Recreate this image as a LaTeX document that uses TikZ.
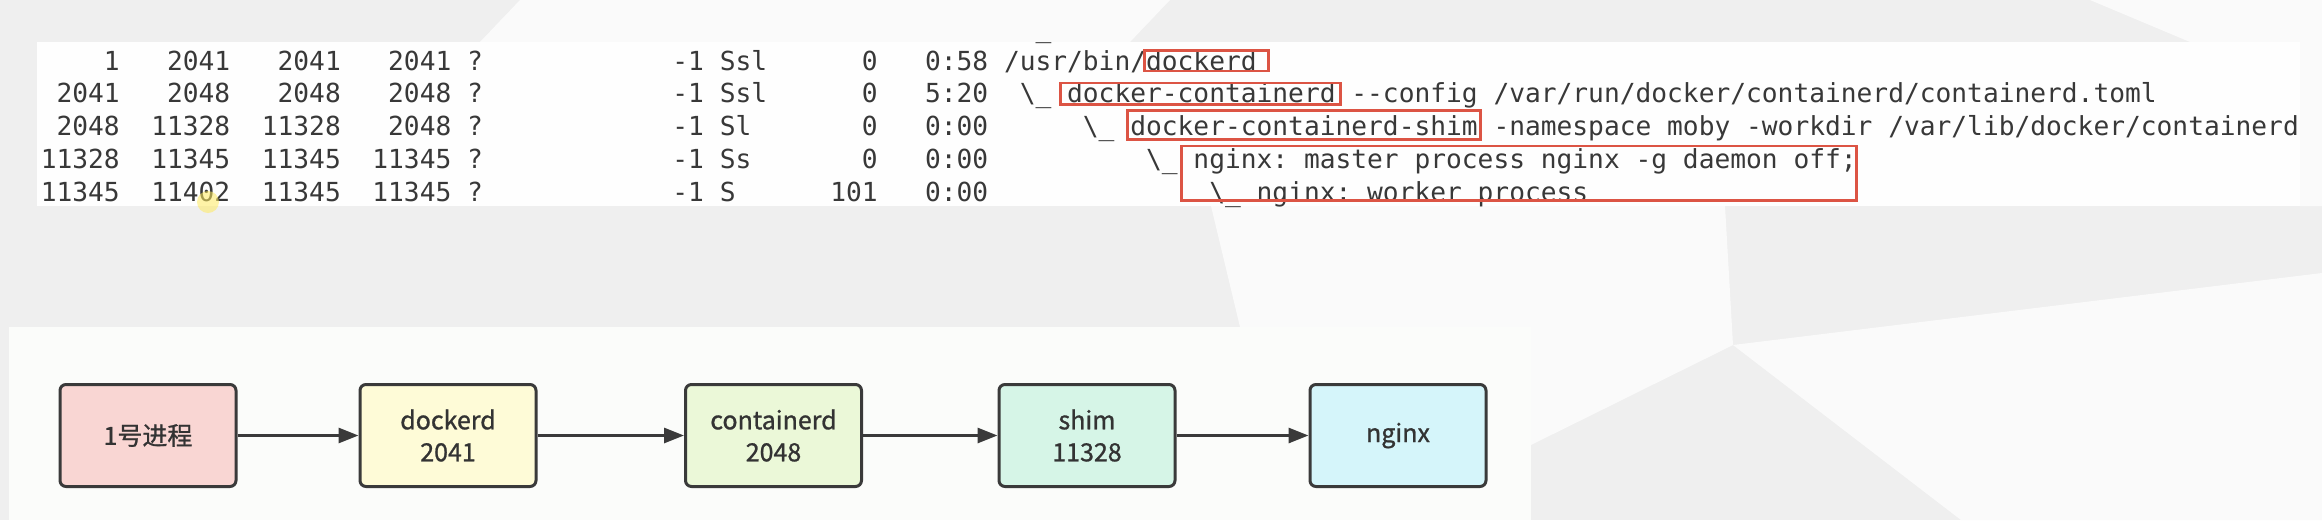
\documentclass[tikz,border=0pt]{standalone}
\usepackage{fontspec}
\setmonofont{DejaVu Sans Mono}
\newfontfamily\cjkfont[FakeBold=1]{Noto Sans CJK SC}
\usetikzlibrary{arrows.meta}
\definecolor{bggray}{HTML}{EFEFEF}
\definecolor{bglight}{HTML}{FAFAFA}
\definecolor{termbg}{HTML}{FEFEFE}
\definecolor{diagbg}{HTML}{FBFCFA}
\definecolor{termtext}{HTML}{383838}
\definecolor{markred}{HTML}{DC5444}
\definecolor{boxline}{HTML}{3A3A3A}
\definecolor{textdark}{HTML}{333333}
\definecolor{cpink}{HTML}{F9D6D3}
\definecolor{cyellow}{HTML}{FEFBD7}
\definecolor{cgreen}{HTML}{EBF8D8}
\definecolor{cmint}{HTML}{D6F5E7}
\definecolor{ccyan}{HTML}{D5F5FA}
\definecolor{hilite}{HTML}{FFEB60}
\tikzset{
  mono/.style={anchor=base west, inner sep=0pt, text=termtext,
    font=\ttfamily\fontsize{26.23pt}{33pt}\selectfont},
  markbox/.style={draw=markred, line width=2.6pt},
  procbox/.style={draw=boxline, line width=3pt, rounded corners=6pt,
    minimum width=176pt, minimum height=102pt, inner sep=0pt, align=center,
    text=textdark, font=\cjkfont\fontsize{25pt}{32pt}\selectfont},
  arr/.style={draw=boxline, line width=3pt, -{Triangle[length=20pt,width=15pt]}}
}
\newcommand\fld[4]{\node[mono] (#1) at ({40.6+15.79*#2},{70+32.9*(#3-1)}) {#4};}
\begin{document}
\begin{tikzpicture}[x=1pt,y=-1pt]
\useasboundingbox (0,0) rectangle (2322,520);
% background
\fill[bggray] (0,0) rectangle (2322,520);
\fill[bglight] (520,0) -- (1170,0) -- (1130,42) -- (480,42) -- cycle;
\fill[bglight] (2090,0) -- (2322,0) -- (2322,206) -- (2300,206) -- (2300,42) -- (2190,42) -- cycle;
\fill[bglight] (1211,206) -- (1725,206) -- (1733,345) -- (1531,445) -- (1531,327) -- (1240,327) -- cycle;
\fill[bglight] (1733,345) -- (2322,273) -- (2322,520) -- (1961,520) -- cycle;
% terminal panel
\fill[termbg] (37,42) rectangle (2300,206);
\begin{scope}
\clip (37,41) rectangle (2300,206);
\fld{r0c}{62}{0}{\textbackslash\_}
\end{scope}
% row 1
\fld{r1a}{4}{1}{1}
\fld{r1b}{8}{1}{2041}
\fld{r1c}{15}{1}{2041}
\fld{r1d}{22}{1}{2041}
\fld{r1e}{27}{1}{?}
\fld{r1f}{40}{1}{-1}
\fld{r1g}{43}{1}{Ssl}
\fld{r1h}{52}{1}{0}
\fld{r1i}{56}{1}{0:58}
\fld{r1j}{61}{1}{/usr/bin/dockerd}
% row 2
\fld{r2a}{1}{2}{2041}
\fld{r2b}{8}{2}{2048}
\fld{r2c}{15}{2}{2048}
\fld{r2d}{22}{2}{2048}
\fld{r2e}{27}{2}{?}
\fld{r2f}{40}{2}{-1}
\fld{r2g}{43}{2}{Ssl}
\fld{r2h}{52}{2}{0}
\fld{r2i}{56}{2}{5:20}
\fld{r2j}{62}{2}{\textbackslash\_ docker-containerd -\kern0pt-config /var/run/docker/containerd/containerd.toml}
% row 3
\fld{r3a}{1}{3}{2048}
\fld{r3b}{7}{3}{11328}
\fld{r3c}{14}{3}{11328}
\fld{r3d}{22}{3}{2048}
\fld{r3e}{27}{3}{?}
\fld{r3f}{40}{3}{-1}
\fld{r3g}{43}{3}{Sl}
\fld{r3h}{52}{3}{0}
\fld{r3i}{56}{3}{0:00}
\fld{r3j}{66}{3}{\textbackslash\_ docker-containerd-shim -namespace moby -workdir /var/lib/docker/containerd}
% row 4
\fld{r4a}{0}{4}{11328}
\fld{r4b}{7}{4}{11345}
\fld{r4c}{14}{4}{11345}
\fld{r4d}{21}{4}{11345}
\fld{r4e}{27}{4}{?}
\fld{r4f}{40}{4}{-1}
\fld{r4g}{43}{4}{Ss}
\fld{r4h}{52}{4}{0}
\fld{r4i}{56}{4}{0:00}
\fld{r4j}{70}{4}{\textbackslash\_ nginx: master process nginx -g daemon off;}
% row 5
\fld{r5a}{0}{5}{11345}
\fld{r5b}{7}{5}{11402}
\fld{r5c}{14}{5}{11345}
\fld{r5d}{21}{5}{11345}
\fld{r5e}{27}{5}{?}
\fld{r5f}{40}{5}{-1}
\fld{r5g}{43}{5}{S}
\fld{r5h}{50}{5}{101}
\fld{r5i}{56}{5}{0:00}
\fld{r5j}{74}{5}{\textbackslash\_ nginx: worker process}
% red marks
\draw[markbox] (1144.5,50.5) rectangle (1268.5,71);
\draw[markbox] (1060.5,83) rectangle (1340.5,104.5);
\draw[markbox] (1127.5,110.5) rectangle (1480.5,139.5);
\draw[markbox] (1181.5,146) rectangle (1856.5,200.5);
% cursor highlight
\fill[hilite, opacity=0.55] (208,202) circle (11);
% diagram panel
\fill[diagbg] (9,327) rectangle (1531,520);
\node[procbox, fill=cpink]   (p1) at (148,435.5)  {1号进程};
\node[procbox, fill=cyellow] (p2) at (448,435.5)  {dockerd\\2041};
\node[procbox, fill=cgreen]  (p3) at (773.5,435.5) {containerd\\2048};
\node[procbox, fill=cmint]   (p4) at (1087,435.5) {shim\\11328};
\node[procbox, fill=ccyan]   (p5) at (1398,435.5) {nginx};
\draw[arr] (p1) -- (p2);
\draw[arr] (p2) -- (p3);
\draw[arr] (p3) -- (p4);
\draw[arr] (p4) -- (p5);
\end{tikzpicture}
\end{document}
